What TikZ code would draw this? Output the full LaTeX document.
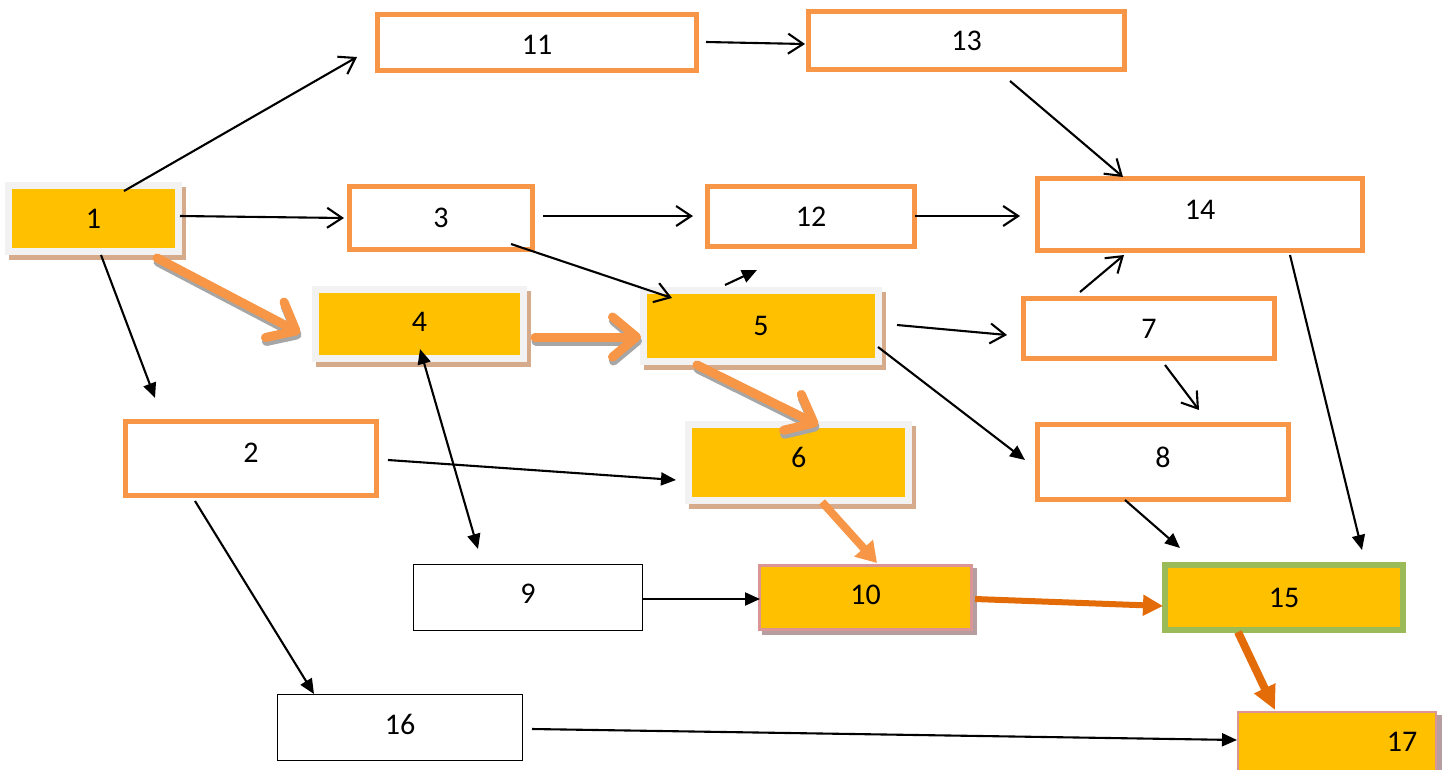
\documentclass[tikz,border=0pt]{standalone}
\usepackage{fontspec}
\setmainfont{Carlito}
\usetikzlibrary{arrows.meta,shadows}
\definecolor{borange}{HTML}{F79646}
\definecolor{dorange}{HTML}{E36C09}
\definecolor{gold}{HTML}{FFC000}
\definecolor{framegray}{HTML}{F2F2F2}
\definecolor{tanshadow}{HTML}{D6AB8B}
\definecolor{rosebord}{HTML}{D99694}
\definecolor{mauveshadow}{HTML}{B59DA0}
\definecolor{olivegreen}{HTML}{9BBB59}
\definecolor{arrowshade}{HTML}{A6A6A6}
\tikzset{
  box/.style={rectangle, inner sep=0pt, outer sep=0pt},
  lab/.style={font=\fontsize{30}{32}\selectfont, inner sep=0pt},
  obox/.style={box, draw=borange, line width=5pt, fill=white},
  kbox/.style={box, draw=black, line width=1.5pt, fill=white},
  ybox/.style={box, fill=gold, draw=framegray, line width=7pt,
    general shadow={draw=tanshadow, fill=tanshadow, line width=7pt,
      shadow xshift=4pt, shadow yshift=-5pt}},
  pbox/.style={box, fill=gold, draw=rosebord, line width=3pt,
    general shadow={draw=mauveshadow, fill=mauveshadow, line width=3pt,
      shadow xshift=4pt, shadow yshift=-4pt}},
  gbox/.style={box, fill=gold, draw=olivegreen, line width=6pt},
  link/.style={draw=black, line width=2.1pt, -{Straight Barb[length=15pt,width=20pt]}},
  flink/.style={draw=black, line width=2.1pt, -{Triangle[length=15pt,width=13pt]}},
  flinkboth/.style={draw=black, line width=2.1pt,
    {Triangle[length=15pt,width=13pt]}-{Triangle[length=15pt,width=13pt]}},
  crit/.style={draw=borange, line width=9pt, line cap=round,
    -{Straight Barb[length=24pt,width=40pt,round]}},
  critshade/.style={crit, draw=arrowshade, transform canvas={xshift=1pt,yshift=-4pt}},
  hot/.style={draw=borange, line width=8pt, -{Triangle[length=20pt,width=24pt]}},
  hotter/.style={draw=dorange, line width=6pt, -{Triangle[length=20pt,width=20pt]}},
  hottest/.style={draw=dorange, line width=8pt, -{Triangle[length=24pt,width=22pt]}},
}
\begin{document}
\begin{tikzpicture}[x=1pt,y=-1pt]
\useasboundingbox (0,0) rectangle (1446,769);
\clip (0,0) rectangle (1446,769);

% task boxes, each with its number
\node[ybox, minimum width=170pt, minimum height=66pt,
      label={[lab]center:1}] (n1) at (93.5,218.5) {};
\node[obox, minimum width=319pt, minimum height=56pt,
      label={[lab,yshift=-2pt]center:11}] (n11) at (537,42.5) {};
\node[obox, minimum width=316pt, minimum height=58pt,
      label={[lab]center:13}] (n13) at (966.5,40.5) {};
\node[obox, minimum width=183pt, minimum height=63pt,
      label={[lab]center:3}] (n3) at (441,218) {};
\node[obox, minimum width=207pt, minimum height=60pt,
      label={[lab]center:12}] (n12) at (811,216.5) {};
\node[obox, minimum width=325pt, minimum height=72pt,
      label={[lab,yshift=5pt]center:14}] (n14) at (1200,214.5) {};
\node[obox, minimum width=251pt, minimum height=60pt,
      label={[lab]center:7}] (n7) at (1149,328.5) {};
\node[obox, minimum width=251pt, minimum height=75pt,
      label={[lab,yshift=5pt]center:8}] (n8) at (1163,462) {};
\node[obox, minimum width=251pt, minimum height=74pt,
      label={[lab,yshift=6pt]center:2}] (n2) at (251,458.5) {};
\node[kbox, minimum width=229pt, minimum height=66pt,
      label={[lab,yshift=3.5pt]center:9}] (n9) at (528,597.5) {};
\node[kbox, minimum width=245pt, minimum height=66pt,
      label={[lab,yshift=3.5pt]center:16}] (n16) at (400,727.5) {};
\node[ybox, minimum width=208pt, minimum height=69pt,
      label={[lab,yshift=2pt]center:4}] (n4) at (419.5,324) {};
\node[ybox, minimum width=235pt, minimum height=71pt,
      label={[lab]center:5}] (n5) at (761,326) {};
\node[ybox, minimum width=220pt, minimum height=76pt,
      label={[lab,yshift=5pt]center:6}] (n6) at (798.75,462.5) {};
\node[pbox, minimum width=212pt, minimum height=64pt,
      label={[lab,yshift=2.5pt]center:10}] (n10) at (865.5,597.5) {};
\node[gbox, minimum width=238pt, minimum height=65pt,
      label={[lab]center:15}] (n15) at (1284,597.5) {};
\node[pbox, line width=2pt, minimum width=198pt, minimum height=64pt,
      label={[lab,xshift=65pt,yshift=2pt]center:17}] (n17) at (1337,744) {};

% ordinary precedence links
\draw[link] ([shift={(30.5,5.5)}]n1.north) -- ([shift={(-20.5,14.5)}]n11.west);
\draw[link] ([shift={(9.5,-0.5)}]n11.east) -- ([shift={(-3.5,3.5)}]n13.west);
\draw[link] ([shift={(1.5,-2.5)}]n1.east) -- ([shift={(-5.5,0)}]n3.west);
\draw[link] ([shift={(10.5,-2)}]n3.east) -- ([shift={(-14.5,-0.5)}]n12.west);
\draw[link] ([shift={(0.5,-0.5)}]n12.east) -- ([shift={(-17.5,1.5)}]n14.west);
\draw[link] ([shift={(43.5,11.5)}]n13.south) -- ([shift={(-77,-1.5)}]n14.north);
\draw[link] ([shift={(70,-5.5)}]n3.south) -- ([shift={(28.5,7.5)}]n5.north west);
\draw[flink] ([shift={(-36,-5.5)}]n5.north) -- ([shift={(-54,23.5)}]n12.south);
\draw[link] ([shift={(18.5,-1)}]n5.east) -- ([shift={(-16.5,6.5)}]n7.west);
\draw[link] ([shift={(-69,-6.5)}]n7.north) -- ([shift={(-76,4.5)}]n14.south);
\draw[flink] ([shift={(-0.5,21)}]n5.east) -- ([shift={(-12.5,-2)}]n8.west);
\draw[link] ([shift={(16,6.5)}]n7.south) -- ([shift={(36,-14.5)}]n8.north);
\draw[flink] ([shift={(90,4.5)}]n14.south) -- ([shift={(78,-15)}]n15.north);
\draw[flink] ([shift={(-38,0.5)}]n8.south) -- ([shift={(15,-17)}]n15.north west);
\draw[flink] ([shift={(7.5,3.5)}]n1.south) -- ([shift={(-96,-23.5)}]n2.north);
\draw[flink] ([shift={(11.5,1.5)}]n2.east) -- ([shift={(-12.75,17.5)}]n6.west);
\draw[flink] ([shift={(-56,5.5)}]n2.south) -- ([shift={(-86,-0.5)}]n16.north);
\draw[flinkboth] ([shift={(0.5,-9.5)}]n4.south) -- ([shift={(-50,-15.5)}]n9.north);
\draw[flink] ([shift={(0.5,1.5)}]n9.east) -- ([shift={(0.5,1.5)}]n10.west);
\draw[flink] ([shift={(9.5,1.5)}]n16.east) -- ([shift={(-1,-4)}]n17.west);

% critical path
\draw[critshade] ([shift={(-21.5,6.5)}]n1.south east) -- ([shift={(-15.5,9)}]n4.west);
\draw[crit] ([shift={(-21.5,6.5)}]n1.south east) -- ([shift={(-15.5,9)}]n4.west);
\draw[critshade] ([shift={(11.5,13)}]n4.east) -- ([shift={(-2.5,11)}]n5.west);
\draw[crit] ([shift={(11.5,13)}]n4.east) -- ([shift={(-2.5,11)}]n5.west);
\draw[critshade] ([shift={(-64,3.5)}]n5.south) -- ([shift={(19.25,0.5)}]n6.north);
\draw[crit] ([shift={(-64,3.5)}]n5.south) -- ([shift={(19.25,0.5)}]n6.north);
\draw[hot] ([shift={(23.25,1.5)}]n6.south) -- ([shift={(11.5,-2.5)}]n10.north);
\draw[hotter] ([shift={(3.5,1.5)}]n10.east) -- ([shift={(-2,8.5)}]n15.west);
\draw[hottest] ([shift={(-46,2)}]n15.south) -- ([shift={(-62,-2)}]n17.north);
\end{tikzpicture}
\end{document}
